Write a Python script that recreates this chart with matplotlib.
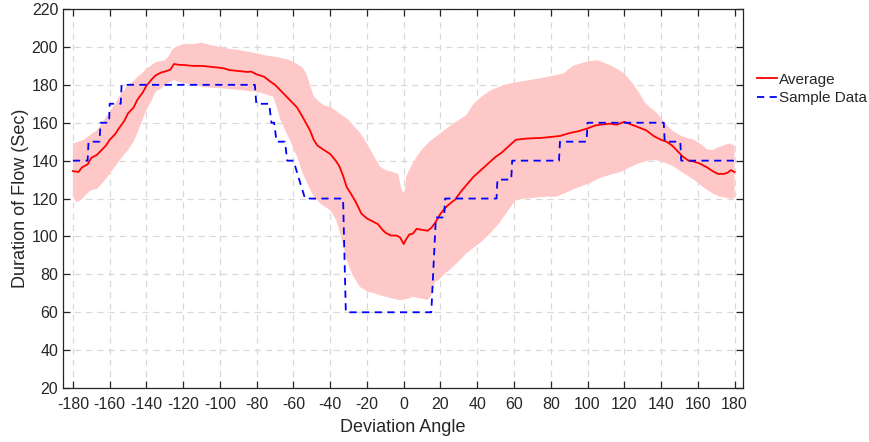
import numpy as np
import matplotlib.pyplot as plt

plt.rcParams['font.family'] = ['Liberation Sans', 'DejaVu Sans']
plt.rcParams['axes.unicode_minus'] = False

# Среднее значение длительности потока
avg_angle = [-180, -177, -175, -172, -170, -167, -165, -162, -160, -157, -155, -152, -150, -147,
             -145, -142, -140, -137, -135, -132, -130, -127, -125, -122, -120, -115, -110, -105,
             -100, -97, -95, -90, -85, -83, -80, -76, -73, -70, -67, -63, -60, -58, -55, -51,
             -49, -47, -44, -40, -37, -35, -33, -31, -29, -26, -23, -20, -17, -14, -12, -10,
             -7, -4, -2, 0, 1, 3, 5, 7, 10, 13, 15, 17, 20, 23, 26, 28, 31, 34, 38, 42, 46, 50,
             53, 57, 61, 65, 70, 75, 80, 85, 90, 95, 100, 104, 107, 112, 116, 120, 124, 128,
             132, 136, 140, 143, 146, 149, 152, 155, 158, 161, 165, 168, 171, 174, 176, 178, 180]
avg_flow = [134.5, 134, 136.5, 138, 141.5, 143, 145, 148, 151, 154, 157, 161, 165, 168,
            172, 176, 179.5, 183, 185, 186.5, 187, 188, 191, 190.5, 190.5, 190, 190, 189.5,
            189, 188.5, 187.8, 187.3, 186.8, 187, 185.5, 184.3, 182, 180, 177, 173, 170, 168, 163, 156,
            151, 148, 146, 143.5, 140, 137, 132, 126, 123, 118, 112, 109.5, 108, 106.5, 104, 102,
            100.5, 100.5, 99.5, 96, 98, 101, 101.5, 104, 103.5, 103, 104.5, 107, 112, 115.5, 118, 119.5, 123.5, 127, 131.5, 135, 138.5, 142,
            144, 147.5, 151, 151.5, 151.8, 152, 152.5, 153, 154.5, 155.5, 157, 158.5, 159, 159.5, 159, 160.5, 159, 157.5,
            156, 153, 151, 150, 148, 145, 142, 140, 139.5, 138.5, 136.5, 134.5, 133, 133, 133.5, 135, 134]

# Верхняя граница разброса
upper_angle = [-180, -177, -174, -170, -167, -164, -160, -157, -154, -150, -147, -145, -142, -140,
               -137, -135, -132, -130, -128, -126, -124, -120, -115, -110, -105, -100, -95, -90,
               -85, -80, -76, -70, -66, -62, -58, -55, -53, -51, -49, -46, -43, -40, -35, -30,
               -26, -24, -20, -16, -13, -10, -6, -3, -1.5, -0.5, 0.5, 1.5, 4, 7, 10, 14, 18, 22,
               26, 30, 34, 38, 42, 47, 52, 57, 62, 68, 74, 80, 87, 92, 97, 101, 105, 108, 112,
               116, 120, 124, 128, 131, 134, 138, 142, 146, 150, 154, 158, 162, 165, 168, 171,
               174, 177, 180]
upper_flow = [149, 150, 151, 154, 156, 160, 166, 170, 175, 180, 182, 184, 186.5, 188.5,
              190.5, 192, 192.5, 193, 195, 198.5, 200, 201.5, 201.5, 202.2, 201, 200, 199, 198.4,
              197.5, 196.6, 195.7, 194.8, 194, 193, 191, 189, 186, 180, 174, 171, 169, 168.4, 165, 161.5,
              157, 155, 149, 142, 137, 135, 134, 133, 126, 123, 124, 132, 137, 142, 146, 150, 153, 156,
              159, 161.5, 164, 170, 173.5, 177, 179, 180.5, 181.5, 182.5, 183.4, 184.5, 186, 190, 191.5, 192.5, 193, 192, 190.5,
              188.5, 186, 181.5, 176, 171, 168, 165, 160, 156, 153.5, 152, 151, 148.5, 146, 145.5, 147,
              148, 149, 148]

# Нижняя граница разброса
lower_angle = [-180, -178, -176, -173, -170, -167, -164, -160, -157, -154, -150, -147, -145, -142,
               -140, -137, -135, -132, -130, -127, -125, -122, -120, -115, -110, -105, -100, -95,
               -90, -85, -80, -75, -71, -69, -67, -64, -62, -58, -55, -52, -49, -45, -42, -40,
               -37, -35, -33, -31, -28, -24, -20, -16, -13, -9, -5, -2, 2, 5, 8, 11, 13, 15, 17,
               19, 22, 25, 29, 34, 38, 42, 47, 52, 57, 61, 66, 72, 78, 83, 88, 94, 101, 106, 112,
               118, 123, 128, 133, 137, 142, 147, 152, 158, 163, 168, 172, 175, 178, 180]
lower_flow = [121, 118, 119, 122, 124.5, 125, 128, 133, 137, 141, 145.6, 150, 154.4, 162,
              166.7, 172, 176.4, 178, 180, 181.5, 182.5, 181.5, 181, 180, 179, 178.5, 178.2, 177.8,
              177.3, 176.8, 176.4, 175, 173.7, 168, 161.4, 155, 151, 142, 133.3, 127, 121, 117, 115, 114,
              109, 103.4, 95, 87.5, 80, 73.5, 71, 70, 69, 68, 67, 66.4, 67, 68.2, 67.5, 67, 66.4, 69, 76,
              77, 80, 82.3, 86, 91, 94, 97, 101.6, 107, 114, 119.2, 120, 120.5, 121, 121, 123, 125.5, 128, 130.5, 132.5,
              134, 136.5, 138.6, 140, 140.3, 139, 136.8, 133.5, 129.8, 126, 122.7, 121, 120.5, 120, 120]

# Пример измерений (ступенчатая зависимость)
sample_angle = [-180, -172, -171.5, -165.5, -165, -160.3, -160, -154, -153.5, -81, -80.2, -73.2,
                -72, -70.5, -69.2, -64.6, -63.4, -60, -53.7, -33, -31.5, 15, 17.5, 22, 22.5,
                50.5, 51, 58.5, 59, 84.5, 85, 99.5, 100, 141.5, 142, 150.5, 151, 180]
sample_flow = [140, 140, 150, 150, 160, 160, 170, 170, 180, 180, 170, 170,
               160, 160, 150, 150, 140, 140, 120, 120, 60, 60, 110, 110, 120,
               120, 130, 130, 140, 140, 150, 150, 160, 160, 150, 150, 140, 140]

text_color = '#262626'

fig = plt.figure(figsize=(8.7, 4.42), dpi=100)
ax = fig.add_axes([0.0724, 0.122, 0.7816, 0.8576])

# Область разброса
band_x = np.concatenate([upper_angle, lower_angle[::-1]])
band_y = np.concatenate([upper_flow, lower_flow[::-1]])
ax.fill(band_x, band_y, color='#ffc8c8', linewidth=0, zorder=1)

ax.plot(avg_angle, avg_flow, color='#ff0000', linewidth=1.3, label='Average', zorder=3)
ax.plot(sample_angle, sample_flow, color='#0000ff', linewidth=1.3, linestyle=(0, (4, 3)),
        label='Sample Data', zorder=3)

ax.set_xlim(-185.4, 184.6)
ax.set_ylim(20, 220)
ax.set_xticks(np.arange(-180, 181, 20))
ax.set_yticks(np.arange(20, 221, 20))

ax.grid(True, color='#d9d9d9', linestyle=(0, (5, 4)), linewidth=0.9, zorder=0)
ax.set_axisbelow(True)

ax.tick_params(direction='in', top=True, right=True, length=5, width=0.9,
               colors=text_color, labelsize=11.5)
ax.tick_params(axis='x', pad=6.5)
ax.tick_params(axis='y', pad=3.5)
for spine in ax.spines.values():
    spine.set_color(text_color)
    spine.set_linewidth(0.9)

ax.set_xlabel('Deviation Angle', fontsize=13, color=text_color, labelpad=5)
ax.set_ylabel('Duration of Flow (Sec)', fontsize=13, color=text_color, labelpad=2)

ax.legend(loc='upper left', bbox_to_anchor=(1.02, 0.832), frameon=False, fontsize=11,
          handlelength=1.35, handletextpad=0.1, labelspacing=0.3, borderaxespad=0,
          borderpad=0, labelcolor=text_color)

fig.savefig('out.png', dpi=100)
